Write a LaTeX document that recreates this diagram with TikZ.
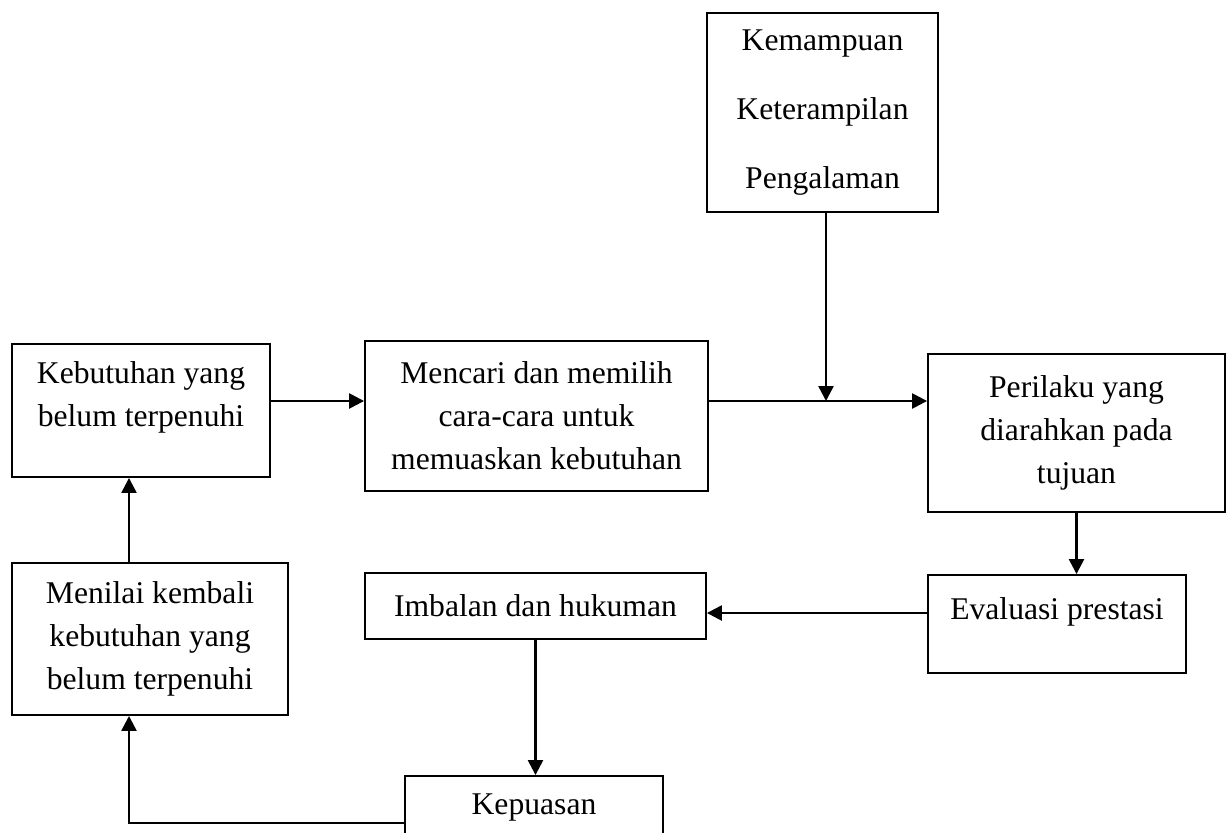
\documentclass[tikz,border=0pt]{standalone}
\usepackage{fontspec}
\setmainfont{Liberation Serif}
\usetikzlibrary{arrows.meta,positioning}
\tikzstyle{kotak}=[draw=black,line width=1.1pt,align=center,inner sep=2pt,font=\fontsize{18}{24.5}\selectfont]
\tikzstyle{panah}=[line width=1.4pt,-{Triangle[length=0.3cm,width=0.3cm]}]

\begin{document}
\begin{tikzpicture}[x=0.02cm, y=-0.02cm]
  \useasboundingbox (0,0) rectangle (1227,832);
  % kotak-kotak
  \node[kotak, minimum width=4.62cm, minimum height=3.98cm] (kemampuan) at (822.5,112.5)
    {Kemampuan\\[15pt]Keterampilan\\[15pt]Pengalaman};
  \node[kotak, minimum width=5.16cm, minimum height=2.66cm, text depth=19pt] (kebutuhan) at (141,410.5)
    {Kebutuhan yang\\belum terpenuhi};
  \node[kotak, minimum width=6.86cm, minimum height=3cm] (mencari) at (536.5,416)
    {Mencari dan memilih\\cara-cara untuk\\memuaskan kebutuhan};
  \node[kotak, minimum width=5.94cm, minimum height=3.16cm] (perilaku) at (1076.5,433)
    {Perilaku yang\\diarahkan pada\\tujuan};
  \node[kotak, minimum width=5.16cm, minimum height=1.96cm, text depth=17.5pt] (evaluasi) at (1057,624)
    {Evaluasi prestasi};
  \node[kotak, minimum width=6.82cm, minimum height=1.32cm] (imbalan) at (535.5,606)
    {Imbalan dan hukuman};
  \node[kotak, minimum width=5.52cm, minimum height=3.04cm] (menilai) at (150,639)
    {Menilai kembali\\kebutuhan yang\\belum terpenuhi};
  \node[kotak, minimum width=5.16cm, minimum height=1.24cm] (kepuasan) at (534,807)
    {Kepuasan};
  \coordinate (simpang) at (826,401);
  \coordinate (kiri) at (129,0);
  % panah
  \draw[panah] (kebutuhan.east |- simpang) -- (mencari.west |- simpang);
  \draw[panah] (mencari.east |- simpang) -- (perilaku.west |- simpang);
  \draw[panah] (kemampuan.south -| simpang) -- (simpang);
  \draw[panah] (perilaku.south) -- (perilaku.south |- evaluasi.north);
  \draw[panah] ([yshift=0.22cm]evaluasi.west) -- ([yshift=0.22cm]evaluasi.west -| imbalan.east);
  \draw[panah] (imbalan.south) -- (imbalan.south |- kepuasan.north);
  \draw[panah] ([yshift=-0.32cm]kepuasan.west) -| (menilai.south -| kiri);
  \draw[panah] (menilai.north -| kiri) -- (kebutuhan.south -| kiri);
\end{tikzpicture}
\end{document}
